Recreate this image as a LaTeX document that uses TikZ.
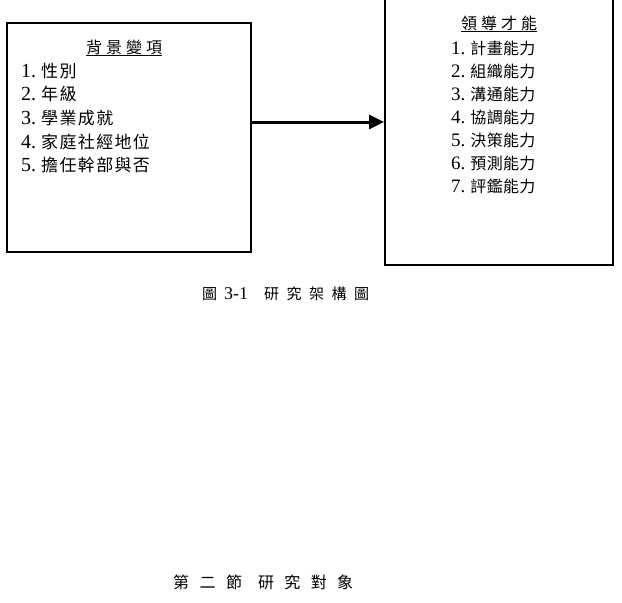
\documentclass[tikz,border=0pt]{standalone}
\usepackage{fontspec}
\setmainfont{Liberation Serif}
\newfontfamily\cjkl[LetterSpace=8]{Noto Sans CJK TC}
\newfontfamily\cjkr[LetterSpace=2]{Noto Sans CJK TC}
\newfontfamily\cjkh[LetterSpace=25]{Noto Sans CJK TC}
\newfontfamily\cjkc[LetterSpace=50]{Noto Sans CJK TC}
\newfontfamily\cjks[LetterSpace=65]{Noto Sans CJK TC}
\newcommand\ldig[1]{{\fontsize{20}{20}\selectfont\rmfamily #1}\hspace{5pt}}
\newcommand\rdig[1]{{\fontsize{19}{19}\selectfont\rmfamily #1}\hspace{5pt}}
\usetikzlibrary{arrows.meta,calc}
\tikzset{
  box/.style={draw=black, line width=2pt, inner sep=0pt},
  litem/.style={anchor=west, inner sep=0pt, font=\fontsize{17}{17}\selectfont},
  ritem/.style={anchor=west, inner sep=0pt, font=\fontsize{16}{16}\selectfont},
  head/.style={anchor=center, inner sep=0pt, font=\fontsize{16}{16}\selectfont},
  captext/.style={anchor=west, inner sep=0pt, font=\fontsize{15}{15}\selectfont},
  uline/.style={line width=0.8pt},
  link/.style={line width=3pt, -{Triangle[length=15pt,width=14pt]}}
}
\begin{document}
\begin{tikzpicture}[x=1pt,y=-1pt]
\useasboundingbox (0,0) rectangle (622,603);
\clip (0,0) rectangle (622,603);
\fill[white] (0,0) rectangle (622,603);
% boxes
\node[box, minimum width=244pt, minimum height=229pt] (L) at (129,137.5) {};
\node[box, minimum width=228pt, minimum height=275pt] (R) at (499,127.5) {};
\coordinate (ay) at (0,122);
\draw[link] (L.east |- ay) -- (R.west |- ay);
% left content
\node[head] (lh) at (124,47) {\cjkh 背景變項};
\draw[uline] ($(lh.south west)+(0,1)$) -- ($(lh.south east)+(0,1)$);
\node[litem] (l1) at (21,71) {\ldig{1.}\cjkl 性別};
\node[litem] (l2) at (21,94) {\ldig{2.}\cjkl 年級};
\node[litem] (l3) at (21,118) {\ldig{3.}\cjkl 學業成就};
\node[litem] (l4) at (21,142) {\ldig{4.}\cjkl 家庭社經地位};
\node[litem] (l5) at (21,165) {\ldig{5.}\cjkl 擔任幹部與否};
% right content
\node[head] (rh) at (499,23) {\cjkh 領導才能};
\draw[uline] ($(rh.south west)+(0,1)$) -- ($(rh.south east)+(0,1)$);
\node[ritem] (r1) at (451,48) {\rdig{1.}\cjkr 計畫能力};
\node[ritem] (r2) at (451,71) {\rdig{2.}\cjkr 組織能力};
\node[ritem] (r3) at (451,94) {\rdig{3.}\cjkr 溝通能力};
\node[ritem] (r4) at (451,117) {\rdig{4.}\cjkr 協調能力};
\node[ritem] (r5) at (451,140) {\rdig{5.}\cjkr 決策能力};
\node[ritem] (r6) at (451,163) {\rdig{6.}\cjkr 預測能力};
\node[ritem] (r7) at (451,186) {\rdig{7.}\cjkr 評鑑能力};
% captions
\node[captext] (c1) at (202,294) {\cjkc 圖\hspace{7pt}{\fontsize{18}{18}\selectfont\rmfamily 3-1}\hspace{16pt}\cjkc 研究架構圖};
\node[captext, font=\fontsize{16}{16}\selectfont] (c2) at (173,582) {\cjks 第二節\hspace{16pt}研究對象};
\end{tikzpicture}
\end{document}
